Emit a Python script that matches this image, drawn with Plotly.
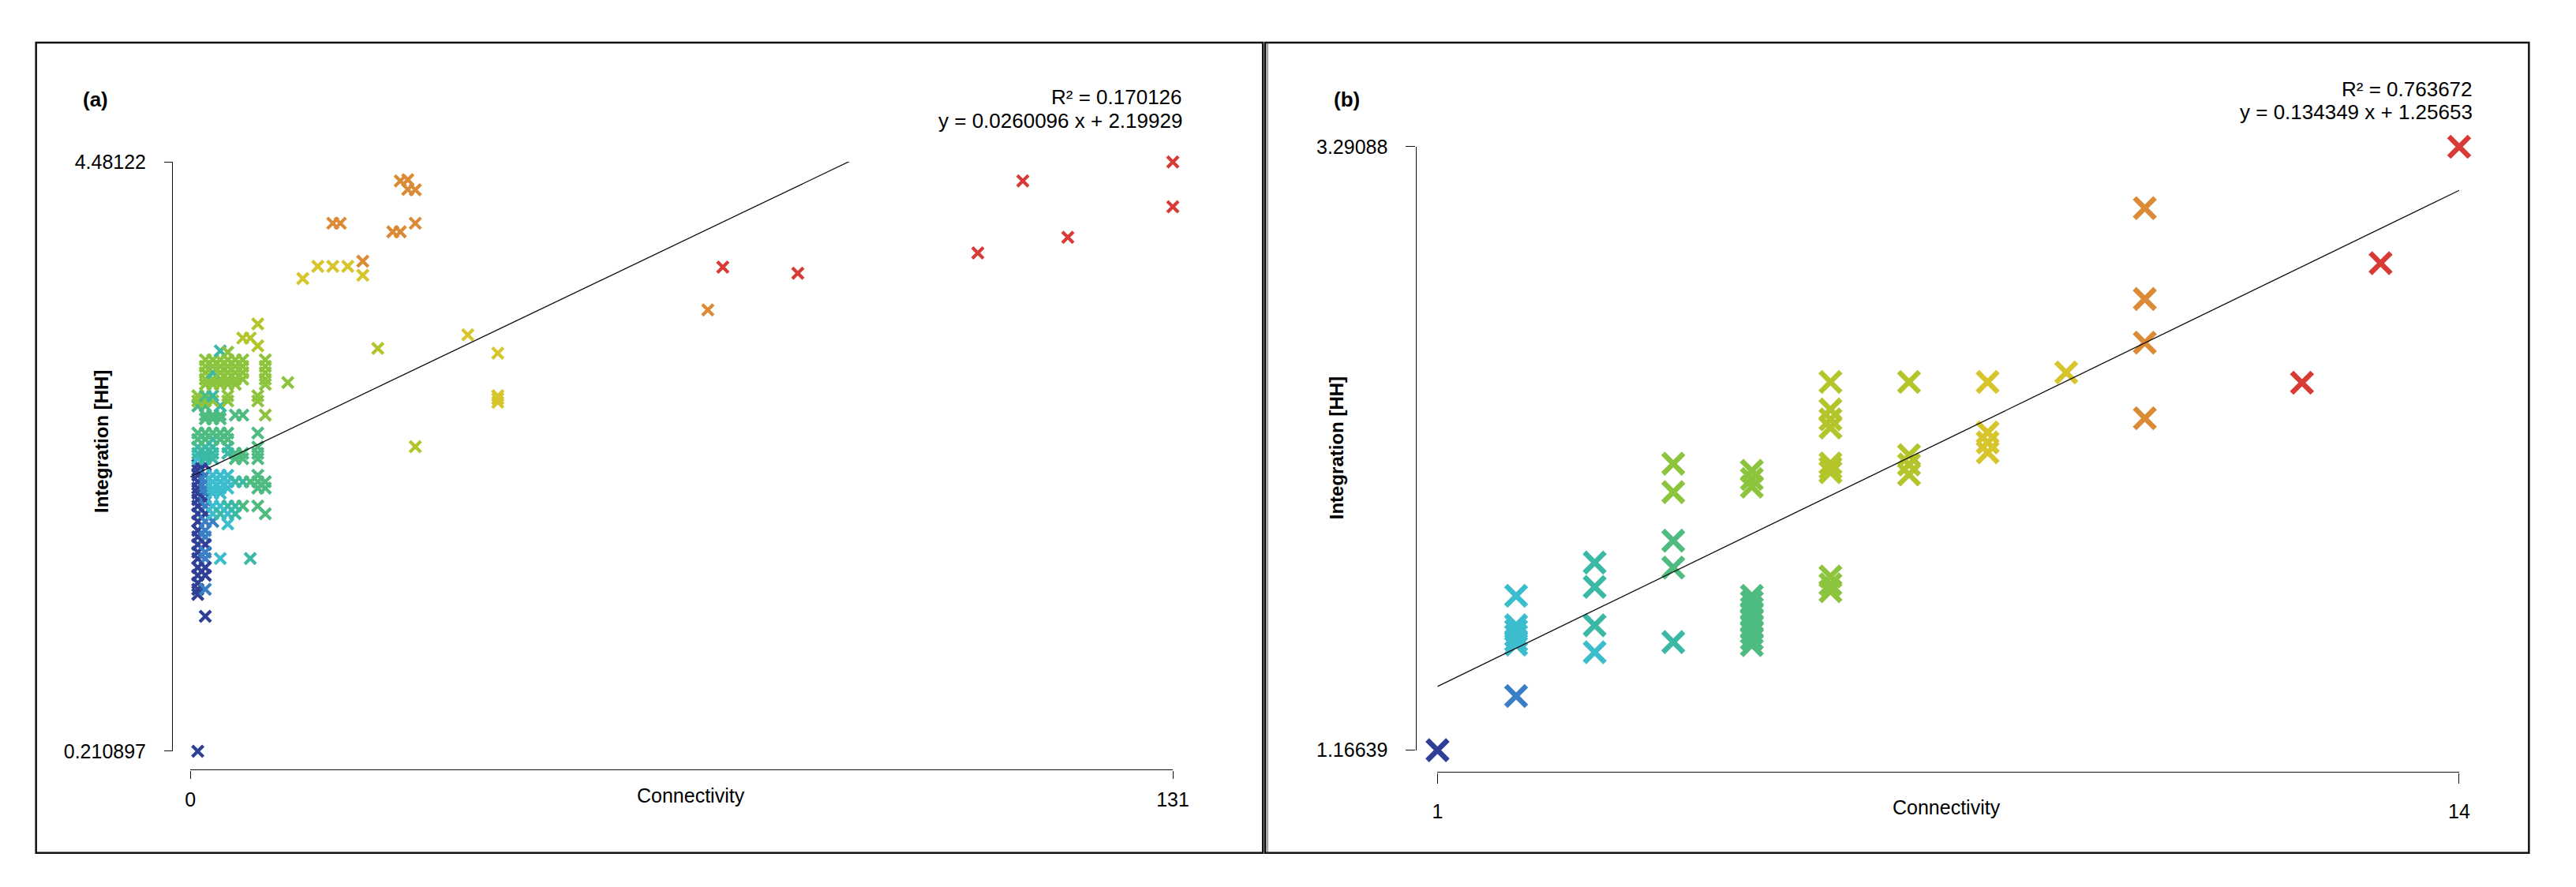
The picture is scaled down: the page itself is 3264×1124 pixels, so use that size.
import plotly.graph_objects as go

W, H = 3264, 1124

# colour classes of the third measure, low (dark blue) to high (red)
palette = ["#2f3f96", "#3a7fc5", "#3bbdcd", "#3bb9a5", "#4ebb80",
           "#8cc43d", "#b4c52b", "#d7c52c", "#db8a35", "#d83a36"]

# -------------------------------------------------
# (a) all units
# -------------------------------------------------
a_x = [
    1, 2,
    1, 1, 1, 1, 1, 1, 1, 1, 1, 1, 1, 1, 1, 1, 1, 1, 1, 1, 1, 1,
    2, 2, 2, 2, 2, 2, 2, 2, 2, 2, 2, 2, 2, 2, 2, 2, 2,
    3, 5, 4, 8,
    3, 4, 5, 9,
    3, 4, 5, 6, 7, 8, 9, 10,
    3, 4, 5, 9, 10,
    3, 4,
    3, 4, 5, 6, 7, 9,
    3, 4, 5, 6, 10,
    1, 2, 3, 6, 7, 9,
    1, 2, 3, 5, 6, 7, 9,
    1, 2, 3, 5, 9,
    1, 2, 3, 4, 5,
    1, 2, 3, 4, 5, 9,
    2, 3, 4,
    2, 3, 4, 6, 7, 10,
    1, 2, 4,
    1, 2, 3, 5, 9,
    1, 2, 3, 5, 9,
    2, 3, 4, 5, 6, 10,
    2, 3, 4, 5, 6, 7, 10,
    2, 3, 4, 5, 6, 7, 10,
    2, 3, 4, 5, 6, 7, 10,
    2, 3, 4, 5, 6, 7, 10,
    4, 5, 7, 8, 9, 9,
    13,
    15, 17, 19, 21, 23, 23,
    19, 20, 27, 28, 30,
    28, 29, 29, 30,
    25, 37, 41, 41, 41, 41, 30,
    69, 71, 81, 105, 111, 117, 131, 131,
]
a_y = [
    0.210897, 1.189,
    2.285, 2.248, 2.211, 2.164, 2.118, 2.080, 2.034, 1.988, 1.932, 1.876,
    1.811, 1.765, 1.709, 1.653, 1.607, 1.542, 1.486, 1.430, 1.384, 1.347,
    2.285, 2.211, 2.164, 2.118, 2.080, 2.034, 1.988, 1.932, 1.876,
    1.811, 1.765, 1.709, 1.653, 1.607, 1.542, 1.486, 1.384,
    1.876, 1.858, 1.607, 1.607,
    2.211, 2.211, 2.211, 2.211,
    2.164, 2.164, 2.164, 2.164, 2.164, 2.164, 2.164, 2.164,
    2.118, 2.118, 2.118, 2.118, 2.118,
    2.080, 2.080,
    1.988, 1.988, 1.988, 1.988, 1.988, 1.988,
    1.932, 1.932, 1.932, 1.932, 1.932,
    2.331, 2.331, 2.331, 2.331, 2.331, 2.331,
    2.369, 2.369, 2.369, 2.369, 2.369, 2.369, 2.369,
    2.415, 2.415, 2.415, 2.415, 2.415,
    2.471, 2.471, 2.471, 2.471, 2.471,
    2.517, 2.517, 2.517, 2.517, 2.517, 2.517,
    2.619, 2.619, 2.619,
    2.647, 2.647, 2.647, 2.647, 2.647, 2.647,
    2.712, 2.712, 2.712,
    2.749, 2.749, 2.749, 2.749, 2.749,
    2.787, 2.787, 2.787, 2.787, 2.787,
    2.870, 2.870, 2.870, 2.870, 2.870, 2.870,
    2.907, 2.907, 2.907, 2.907, 2.907, 2.907, 2.907,
    2.954, 2.954, 2.954, 2.954, 2.954, 2.954, 2.954,
    3.000, 3.000, 3.000, 3.000, 3.000, 3.000, 3.000,
    3.047, 3.047, 3.047, 3.047, 3.047, 3.047, 3.047,
    3.112, 3.103, 3.205, 3.205, 3.149, 3.307,
    2.883,
    3.636, 3.725, 3.725, 3.725, 3.660, 3.762,
    4.037, 4.037, 3.975, 3.975, 4.037,
    4.344, 4.352, 4.282, 4.279,
    3.130, 3.228, 3.096, 2.787, 2.765, 2.740, 2.418,
    3.409, 3.719, 3.675, 3.822, 4.344, 3.935, 4.48122, 4.156,
]
a_c = [
    0, 0,
    0, 0, 0, 0, 0, 0, 0, 0, 0, 0, 0, 0, 0, 0, 0, 0, 0, 0, 0, 0,
    0, 1, 1, 1, 1, 0, 1, 0, 1, 1, 1, 0, 1, 1, 0, 0, 1,
    1, 2, 2, 3,
    2, 2, 2, 4,
    2, 2, 2, 3, 3, 4, 4, 4,
    2, 2, 2, 4, 4,
    2, 2,
    2, 2, 3, 3, 4, 4,
    2, 3, 2, 3, 4,
    2, 3, 3, 4, 4, 4,
    3, 3, 3, 3, 4, 4, 4,
    3, 3, 3, 3, 4,
    4, 4, 3, 4, 4,
    4, 4, 4, 4, 4, 4,
    4, 4, 4,
    4, 4, 4, 4, 4, 5,
    4, 4, 3,
    5, 5, 5, 5, 5,
    5, 4, 3, 5, 5,
    5, 5, 5, 5, 5, 5,
    5, 5, 5, 5, 5, 5, 5,
    5, 3, 5, 5, 5, 5, 5,
    5, 5, 5, 5, 5, 5, 5,
    5, 5, 5, 5, 5, 5, 5,
    3, 5, 6, 6, 6, 6,
    5,
    7, 7, 7, 7, 7, 8,
    8, 8, 8, 8, 8,
    8, 8, 8, 8,
    6, 7, 7, 7, 7, 7, 6,
    8, 9, 9, 9, 9, 9, 9, 9,
]
a_xticks = [0, 131]
a_yticks = [0.210897, 4.48122]
a_fit = (0.0260096, 2.19929)   # slope, intercept
a_r2 = 0.170126

# -------------------------------------------------
# (b) selected units
# -------------------------------------------------
b_x = [
    1,
    2, 2, 2, 2, 2, 2, 2,
    3, 3, 3, 3,
    4, 4, 4, 4, 4,
    5, 5, 5, 5, 5, 5, 5, 5, 5, 5, 5, 5,
    6, 6, 6, 6, 6, 6, 6, 6, 6, 6,
    7, 7, 7, 7,
    8, 8, 8, 8,
    9,
    10, 10, 10, 10,
    12, 13, 14,
]
b_y = [
    1.16639,
    1.357, 1.710, 1.606, 1.588, 1.570, 1.552, 1.538,
    1.827, 1.741, 1.606, 1.511,
    2.175, 2.075, 1.904, 1.809, 1.547,
    2.150, 2.121, 2.094, 1.710, 1.688, 1.666, 1.645, 1.623, 1.601, 1.580, 1.558, 1.536,
    2.463, 2.366, 2.331, 2.302, 2.176, 2.160, 2.145, 1.778, 1.750, 1.726,
    2.463, 2.205, 2.172, 2.137,
    2.463, 2.285, 2.250, 2.215,
    2.496,
    3.075, 2.755, 2.601, 2.335,
    2.460, 2.881, 3.29088,
]
b_c = [
    0,
    1, 2, 2, 2, 2, 2, 2,
    3, 3, 3, 2,
    5, 5, 4, 4, 3,
    5, 5, 5, 4, 4, 4, 4, 4, 4, 4, 4, 4,
    6, 6, 6, 6, 6, 6, 6, 5, 5, 5,
    6, 6, 6, 6,
    7, 7, 7, 7,
    7,
    8, 8, 8, 8,
    9, 9, 9,
]
b_xticks = [1, 14]
b_yticks = [1.16639, 3.29088]
b_fit = (0.134349, 1.25653)
b_r2 = 0.763672

assert len(a_x) == len(a_y) == len(a_c)
assert len(b_x) == len(b_y) == len(b_c)

FONT = "Liberation Sans, Arial, sans-serif"


def colours(classes):
    return [palette[k] for k in classes]


def fmt(v):
    return "%g" % v


fig = go.Figure()

for xs, ys, cs, fit, ticks, xa, ya, size, lw in [
    (a_x, a_y, a_c, a_fit, a_xticks, "x", "y", 14, 4.2),
    (b_x, b_y, b_c, b_fit, b_xticks, "x2", "y2", 26, 6.5),
]:
    cols = colours(cs)
    fig.add_trace(go.Scatter(
        x=xs, y=ys, mode="markers", xaxis=xa, yaxis=ya,
        marker=dict(symbol="x-thin", size=size, color=cols,
                    line=dict(width=lw, color=cols)),
        cliponaxis=False, hoverinfo="skip", showlegend=False,
    ))
    slope, icpt = fit
    fig.add_trace(go.Scatter(
        x=ticks, y=[icpt + slope * t for t in ticks], mode="lines",
        xaxis=xa, yaxis=ya, line=dict(color="#111111", width=1.3),
        hoverinfo="skip", showlegend=False,
    ))


def axis(domain, rng, pos, vals, ticklen, standoff):
    span = rng[1] - rng[0]
    return dict(
        domain=domain, range=[rng[0] - span * 1e-4, rng[1] + span * 1e-4],
        anchor="free", position=pos,
        showline=True, linecolor="#111111", linewidth=1.3,
        ticks="outside", ticklen=ticklen, tickwidth=1.3, tickcolor="#111111",
        tickvals=vals, ticktext=[fmt(v) for v in vals],
        ticklabelstandoff=standoff,
        tickfont=dict(family=FONT, size=25, color="black"),
        showgrid=False, zeroline=False, fixedrange=True,
    )


def note(text, x, y, size=25, anchor="center", angle=0):
    return dict(text=text, x=x / W, y=1 - y / H, xref="paper", yref="paper",
                showarrow=False, xanchor=anchor, yanchor="middle",
                textangle=angle,
                font=dict(family=FONT, size=size, color="black"))


fig.update_layout(
    width=W, height=H,
    margin=dict(l=0, r=0, t=0, b=0),
    paper_bgcolor="white", plot_bgcolor="white",
    xaxis=axis([236 / W, 1492 / W], a_xticks, 1 - 986 / H, a_xticks, 10, 5),
    yaxis=axis([1 - 962 / H, 1 - 196 / H], a_yticks, 213 / W, a_yticks, 10, 18),
    xaxis2=axis([1830 / W, 3136 / W], b_xticks, 1 - 989 / H, b_xticks, 13, 14),
    yaxis2=axis([1 - 960.6 / H, 1 - 176.3 / H], b_yticks, 1802 / W, b_yticks, 12, 18),
    shapes=[
        dict(type="rect", xref="paper", yref="paper",
             x0=39 / W, x1=1607 / W, y0=1 - 1094 / H, y1=1 - 41 / H,
             line=dict(color="#111111", width=2.5)),
        dict(type="rect", xref="paper", yref="paper",
             x0=1610 / W, x1=3225 / W, y0=1 - 1094 / H, y1=1 - 41 / H,
             line=dict(color="#111111", width=2.5)),
        dict(type="line", xref="paper", yref="paper",
             x0=1613 / W, x1=1613 / W, y0=1 - 1094 / H, y1=1 - 41 / H,
             line=dict(color="#555555", width=1)),
    ],
    annotations=[
        note("<b>(a)</b>", 115, 115, 26),
        note("R² = %s" % fmt(a_r2), 1506, 112, 26, "right"),
        note("y = %s x + %s" % (fmt(a_fit[0]), fmt(a_fit[1])), 1506, 143, 26, "right"),
        note("<b>Integration [HH]</b>", 122, 559, 24, angle=-90),
        note("Connectivity", 876, 1019),
        note("<b>(b)</b>", 1714, 115, 26),
        note("R² = %s" % fmt(b_r2), 3155, 102, 26, "right"),
        note("y = %s x + %s" % (fmt(b_fit[0]), fmt(b_fit[1])), 3155, 131, 26, "right"),
        note("<b>Integration [HH]</b>", 1701, 568, 24, angle=-90),
        note("Connectivity", 2481, 1035),
    ],
)

fig.write_html("out.html", config={"displayModeBar": False},
               post_script="document.body.style.margin='0';")
